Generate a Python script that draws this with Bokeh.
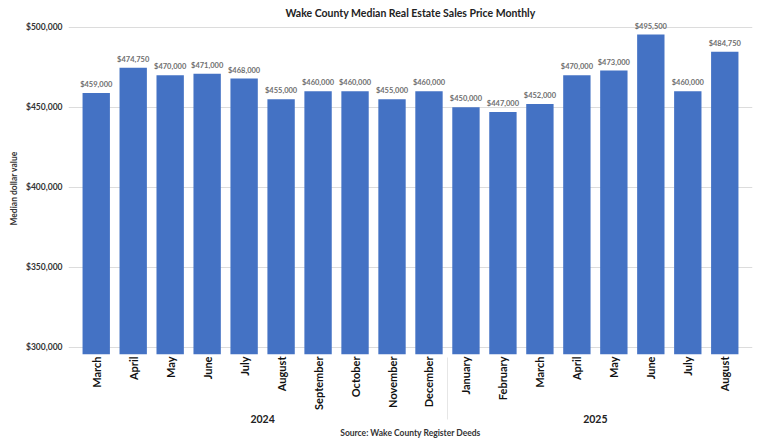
import math
from bokeh.plotting import figure
from bokeh.models import (ColumnDataSource, FactorRange, NumeralTickFormatter,
                          FixedTicker, Title, Range1d)
from bokeh.core.properties import value
from bokeh.embed import file_html
from bokeh.resources import INLINE

years = ["2024"] * 10 + ["2025"] * 8
months = ["March", "April", "May", "June", "July", "August", "September",
          "October", "November", "December",
          "January", "February", "March", "April", "May", "June", "July", "August"]
prices = [459000, 474750, 470000, 471000, 468000, 455000, 460000, 460000, 455000, 460000,
          450000, 447000, 452000, 470000, 473000, 495500, 460000, 484750]
y_ticks = [300000, 350000, 400000, 450000, 500000]

factors = list(zip(years, months))
labels = ["${:,}".format(v) for v in prices]
src = ColumnDataSource(dict(x=factors, top=prices, label=labels))

FONT = "Lato"

p = figure(width=760, height=442, output_backend="svg", toolbar_location=None,
           x_range=FactorRange(*factors, group_padding=0, range_padding=0.25,
                               range_padding_units="absolute"),
           y_range=Range1d(295500, 503000),
           min_border_left=68, min_border_right=8, min_border_top=20,
           min_border_bottom=88)

p.title.text = "Wake County Median Real Estate Sales Price Monthly"
p.title.align = "center"
p.title.text_font = FONT
p.title.text_font_size = "10.5px"
p.title.text_font_style = "bold"
p.title.text_color = "#222222"
p.title.standoff = 8

p.vbar(x="x", top="top", bottom=0, width=0.74, source=src,
       fill_color="#4472C4", line_color=None)
p.text(x="x", y="top", text="label", source=src, text_align="center",
       text_baseline="bottom", y_offset=-4, text_font=value(FONT),
       text_font_size="7.5px", text_font_style="bold", text_color="#6f6f6f")

p.xgrid.grid_line_color = None
p.ygrid.grid_line_color = "#dcdcdc"
p.ygrid.grid_line_width = 1
p.outline_line_color = None

ya = p.yaxis[0]
ya.ticker = FixedTicker(ticks=y_ticks)
ya.formatter = NumeralTickFormatter(format="$0,0")
ya.axis_line_color = None
ya.major_tick_line_color = None
ya.minor_tick_line_color = None
ya.major_tick_out = 0
ya.major_tick_in = 0
ya.major_label_standoff = 6
ya.major_label_text_font = FONT
ya.major_label_text_font_size = "8.5px"
ya.major_label_text_font_style = "bold"
ya.major_label_text_color = "#333333"
ya.axis_label = "Median dollar value"
ya.axis_label_text_font = FONT
ya.axis_label_text_font_size = "8.5px"
ya.axis_label_text_font_style = "bold"
ya.axis_label_text_color = "#333333"
ya.axis_label_standoff = 4

xa = p.xaxis[0]
xa.axis_line_color = None
xa.major_tick_line_color = None
xa.minor_tick_line_color = None
xa.major_tick_out = 0
xa.major_tick_in = 0
xa.major_label_orientation = math.pi / 2
xa.major_label_text_font = FONT
xa.major_label_text_font_size = "11px"
xa.major_label_text_font_style = "bold"
xa.major_label_text_color = "#111111"
xa.major_label_standoff = 2
xa.group_text_font = FONT
xa.group_text_font_size = "10.5px"
xa.group_text_font_style = "bold"
xa.group_text_color = "#222222"
xa.separator_line_color = "#e6e6e6"
xa.separator_line_width = 1

src_title = Title(text="Source: Wake County Register Deeds", align="center",
                  text_font=FONT, text_font_size="8.5px", text_font_style="bold",
                  text_color="#333333", standoff=0, offset=0)
p.add_layout(src_title, "below")

open("out.html", "w").write(file_html(p, INLINE))
